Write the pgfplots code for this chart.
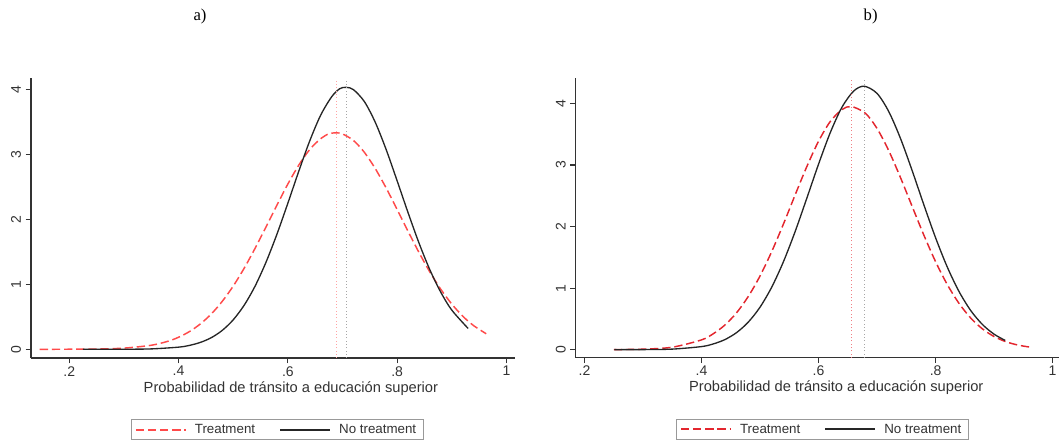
\documentclass[border=0pt]{standalone}
\usepackage{fontspec}
\setmainfont{Liberation Sans}
\newfontfamily\timesfont{Liberation Serif}
\usepackage{pgfplots}
\pgfplotsset{compat=1.18}
\definecolor{TreatA}{HTML}{FF4A4A}
\definecolor{TreatB}{HTML}{E3262E}
\definecolor{AxGray}{HTML}{333333}

\pgfplotsset{
  statastyle/.style={
    scale only axis,
    axis x line*=bottom, axis y line*=left,
    axis line style={AxGray, line width=1.1pt},
    tick style={AxGray, line width=0.8pt},
    tick align=outside, major tick length=4pt,
    xtick={0.2,0.4,0.6,0.8,1}, xticklabels={.2,.4,.6,.8,1},
    ytick={0,1,2,3,4},
    ticklabel style={font=\fontsize{10.5}{12}\selectfont, text=AxGray},
    yticklabel style={rotate=90, anchor=south},
    xticklabel style={yshift=-1pt, inner ysep=1pt},
    /pgf/number format/assume math mode=true,
    xlabel={Probabilidad de tránsito a educación superior},
    clip=false,
    legend columns=2,
    legend cell align=left,
    legend style={draw=gray!80, font=\fontsize{10}{12}\selectfont,
      text=AxGray, inner xsep=3pt, inner ysep=1.5pt,
      /tikz/every odd column/.append style={column sep=4pt},
      /tikz/every even column/.append style={column sep=16pt}},
    legend image code/.code={\draw[#1, line width=1.5pt] (0pt,0pt) -- (37.5pt,0pt);},
  }
}

\begin{document}
\begin{tikzpicture}
\useasboundingbox (0,0) rectangle (795pt,332.25pt);

\node[font=\timesfont\fontsize{12.5}{14}\selectfont] at (150pt,320pt) {a)};
\node[font=\timesfont\fontsize{12.5}{14}\selectfont] at (653pt,320pt) {b)};

% panel a
\begin{axis}[statastyle,
  at={(23.25pt,63.75pt)}, anchor=south west,
  width=363pt, height=209.8pt,
  xmin=0.13, xmax=1.0157, ymin=-0.134, ymax=4.17,
  xlabel style={font=\fontsize{11}{13}\selectfont, text=AxGray, inner sep=0pt,
    at={(axis description cs:0.537,-0.108)}, anchor=center},
  legend style={at={(0.508,-0.2556)}, anchor=center},
]
\addplot[TreatA, line width=1.1pt, smooth, dash pattern=on 6.2pt off 2.9pt] coordinates {
  (0.146,0.000) (0.20,0.001) (0.25,0.004) (0.30,0.018) (0.35,0.062) (0.38,0.122)
  (0.40,0.185) (0.42,0.273) (0.44,0.391) (0.46,0.544) (0.48,0.738) (0.50,0.972)
  (0.52,1.246) (0.54,1.553) (0.56,1.882) (0.58,2.217) (0.60,2.542) (0.62,2.834)
  (0.64,3.073) (0.66,3.240) (0.675,3.315) (0.688,3.330) (0.70,3.313) (0.72,3.213)
  (0.74,3.031) (0.76,2.780) (0.78,2.480) (0.80,2.151) (0.82,1.815) (0.84,1.489)
  (0.86,1.188) (0.88,0.922) (0.90,0.696) (0.92,0.510) (0.94,0.364) (0.963,0.239)};
\addlegendentry{Treatment}
\addplot[black!85, line width=1.0pt, smooth] coordinates {
  (0.225,0.000) (0.25,0.000) (0.30,0.001) (0.35,0.006) (0.40,0.033) (0.42,0.060)
  (0.44,0.106) (0.46,0.179) (0.48,0.291) (0.50,0.453) (0.52,0.677) (0.54,0.971)
  (0.56,1.339) (0.58,1.770) (0.60,2.247) (0.62,2.739) (0.64,3.205) (0.66,3.601)
  (0.68,3.883) (0.695,4.010) (0.707,4.030) (0.72,3.995) (0.74,3.812) (0.76,3.492)
  (0.78,3.071) (0.80,2.592) (0.82,2.102) (0.84,1.635) (0.86,1.221) (0.88,0.876)
  (0.90,0.603) (0.93,0.320)};
\addlegendentry{No treatment}
\addplot[TreatA!50, line width=0.5pt, dotted, forget plot] coordinates {(0.688,-0.134) (0.688,4.17)};
\addplot[gray!70, line width=0.5pt, dotted, forget plot] coordinates {(0.707,-0.134) (0.707,4.17)};
\end{axis}

% panel b
\begin{axis}[statastyle,
  at={(431.8pt,64pt)}, anchor=south west,
  width=362.5pt, height=209.6pt,
  xmin=0.185, xmax=1.011, ymin=-0.13, ymax=4.41,
  xlabel style={font=\fontsize{11}{13}\selectfont, text=AxGray, inner sep=0pt,
    at={(axis description cs:0.539,-0.106)}, anchor=center},
  legend style={at={(0.5096,-0.257)}, anchor=center},
]
\addplot[TreatB, line width=1.1pt, smooth, dash pattern=on 6.2pt off 2.9pt] coordinates {
  (0.25,0.001) (0.30,0.008) (0.35,0.040) (0.40,0.159) (0.42,0.258) (0.44,0.401)
  (0.46,0.601) (0.48,0.866) (0.50,1.198) (0.52,1.595) (0.54,2.042) (0.56,2.515)
  (0.58,2.976) (0.60,3.387) (0.62,3.707) (0.64,3.900) (0.656,3.950) (0.68,3.840)
  (0.70,3.592) (0.72,3.231) (0.74,2.795) (0.76,2.325) (0.78,1.859) (0.80,1.429)
  (0.82,1.057) (0.84,0.752) (0.86,0.514) (0.88,0.338) (0.90,0.213) (0.92,0.130)
  (0.94,0.076) (0.96,0.043)};
\addlegendentry{Treatment}
\addplot[black!85, line width=1.0pt, smooth] coordinates {
  (0.251,0.000) (0.30,0.001) (0.35,0.009) (0.40,0.050) (0.42,0.093) (0.44,0.164)
  (0.46,0.278) (0.48,0.449) (0.50,0.691) (0.52,1.017) (0.54,1.430) (0.56,1.920)
  (0.58,2.463) (0.60,3.015) (0.62,3.526) (0.64,3.939) (0.66,4.201) (0.678,4.280)
  (0.70,4.162) (0.72,3.867) (0.74,3.431) (0.76,2.907) (0.78,2.351) (0.80,1.817)
  (0.82,1.341) (0.84,0.945) (0.86,0.636) (0.88,0.409) (0.90,0.251) (0.919,0.150)};
\addlegendentry{No treatment}
\addplot[TreatB!60, line width=0.5pt, dotted, forget plot] coordinates {(0.656,-0.13) (0.656,4.41)};
\addplot[gray!70, line width=0.5pt, dotted, forget plot] coordinates {(0.678,-0.13) (0.678,4.41)};
\end{axis}
\end{tikzpicture}
\end{document}
